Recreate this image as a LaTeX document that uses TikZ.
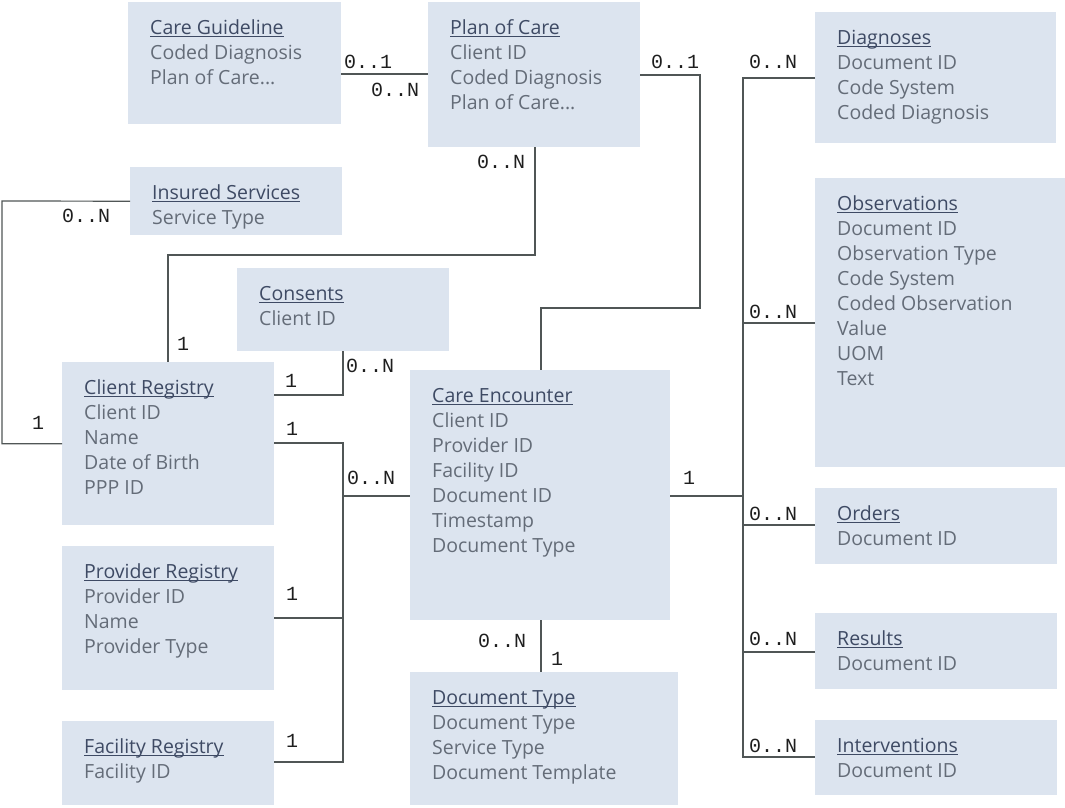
\documentclass[tikz,border=0pt]{standalone}
\usepackage{fontspec}
\setmainfont{Open Sans}
\newfontfamily\labfont{Liberation Mono}
\definecolor{boxfill}{RGB}{220,228,239}
\definecolor{bodytxt}{RGB}{100,108,120}
\definecolor{ttltxt}{RGB}{62,74,100}
\definecolor{linecol}{RGB}{80,86,86}
\definecolor{labcol}{RGB}{30,30,30}
\newcommand\enttitle[1]{{\color{ttltxt}\setbox0\hbox{#1}\rlap{\rule[-2.6pt]{\wd0}{1.1pt}}\box0}}
\tikzset{
  ebox/.style={rectangle, fill=boxfill, draw=none, inner sep=0pt, anchor=north west},
  etext/.style={inner sep=0pt, anchor=base west, text=bodytxt, font=\fontsize{19.5}{25}\selectfont},
  lab/.style={inner sep=0pt, anchor=base west, text=labcol, font=\labfont\fontsize{20}{22}\selectfont},
  conn/.style={draw=linecol, line width=1.2pt}
}
\newcommand\ent[6]{%
  \node[ebox, minimum width={(#4-#2)*1pt}, minimum height={(#5-#3)*1pt}] (#1) at (#2,#3) {};
  \node[etext] (#1-t) at ([xshift=22pt,yshift=-32pt]#1.north west) {\begin{tabular}[t]{@{}l@{}}#6\end{tabular}};
}
\begin{document}
\begin{tikzpicture}[x=1pt,y=-1pt]
\useasboundingbox (0,0) rectangle (1065,807);
% entities
\ent{cg}{128}{2}{341}{124}{\enttitle{Care Guideline}\\Coded Diagnosis\\Plan of Care...}
\ent{poc}{428}{2}{640}{147}{\enttitle{Plan of Care}\\Client ID\\Coded Diagnosis\\Plan of Care...}
\ent{diag}{815}{12}{1056}{143}{\enttitle{Diagnoses}\\Document ID\\Code System\\Coded Diagnosis}
\ent{ins}{130}{167}{342}{235}{\enttitle{Insured Services}\\Service Type}
\ent{obs}{815}{178}{1065}{467}{\enttitle{Observations}\\Document ID\\Observation Type\\Code System\\Coded Observation\\Value\\UOM\\Text}
\ent{cons}{237}{268}{449}{351}{\enttitle{Consents}\\Client ID}
\ent{cr}{62}{362}{274}{525}{\enttitle{Client Registry}\\Client ID\\Name\\Date of Birth\\PPP ID}
\ent{ce}{410}{370}{670}{620}{\enttitle{Care Encounter}\\Client ID\\Provider ID\\Facility ID\\Document ID\\Timestamp\\Document Type}
\ent{ord}{815}{488}{1057}{564}{\enttitle{Orders}\\Document ID}
\ent{prov}{62}{546}{274}{690}{\enttitle{Provider Registry}\\Provider ID\\Name\\Provider Type}
\ent{res}{815}{613}{1057}{689}{\enttitle{Results}\\Document ID}
\ent{fac}{62}{721}{274}{805}{\enttitle{Facility Registry}\\Facility ID}
\ent{dt}{410}{672}{678}{805}{\enttitle{Document Type}\\Document Type\\Service Type\\Document Template}
\ent{int}{815}{720}{1057}{795}{\enttitle{Interventions}\\Document ID}
% bus coordinates
\coordinate (busR) at (743,496);
\coordinate (busL) at (343,496);
% connectors
\draw[conn] (cg.east |- 0,74) -- (poc.west |- 0,74);
\draw[conn] (poc.east |- 0,75) -- (700,75) -- (700,308) -| (ce.north -| 541,0);
\draw[conn] (poc.south -| 535,0) -- (535,255) -| (cr.north -| 168,0);
\draw[conn] (ins.west) -- (2,201) |- (cr.west);
\draw[conn] (cr.east |- 0,395) -| (cons.south -| 343,0);
\draw[conn] (cr.east |- 0,443) -| (busL);
\draw[conn] (busL) -- (ce.west |- busL);
\draw[conn] (busL) |- (fac.east |- 0,762);
\draw[conn] (prov.east |- 0,618) -- (busL |- 0,618);
\draw[conn] (ce.east |- busR) -- (busR);
\draw[conn] (diag.west |- 0,78) -| (busR);
\draw[conn] (busR) |- (int.west |- 0,757);
\draw[conn] (busR |- 0,323) -- (obs.west |- 0,323);
\draw[conn] (busR |- 0,525) -- (ord.west |- 0,525);
\draw[conn] (busR |- 0,652) -- (res.west |- 0,652);
\draw[conn] (ce.south -| 541,0) -- (dt.north -| 541,0);
% labels
\node[lab] (l1) at (344,68) {0..1};
\node[lab] (l2) at (371,96) {0..N};
\node[lab] (l3) at (651,68) {0..1};
\node[lab] (l4) at (477,168) {0..N};
\node[lab] (l5) at (749,68) {0..N};
\node[lab] (l6) at (62,222) {0..N};
\node[lab] (l7) at (177,350) {1};
\node[lab] (l8) at (346,372) {0..N};
\node[lab] (l9) at (285,387) {1};
\node[lab] (l10) at (32,429) {1};
\node[lab] (l11) at (286,435) {1};
\node[lab] (l12) at (347,484) {0..N};
\node[lab] (l13) at (683,484) {1};
\node[lab] (l14) at (478,647) {0..N};
\node[lab] (l15) at (551,665) {1};
\node[lab] (l16) at (286,600) {1};
\node[lab] (l17) at (286,747) {1};
\node[lab] (l18) at (749,318) {0..N};
\node[lab] (l19) at (749,520) {0..N};
\node[lab] (l20) at (749,645) {0..N};
\node[lab] (l21) at (749,752) {0..N};
\end{tikzpicture}
\end{document}
